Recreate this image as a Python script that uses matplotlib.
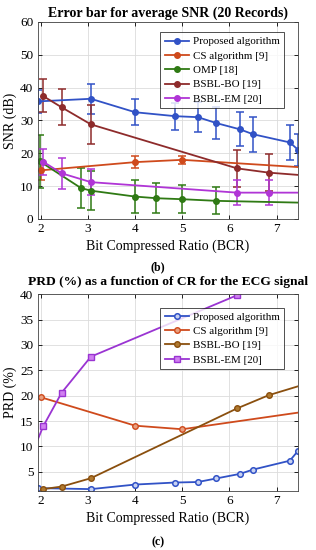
import numpy as np
import matplotlib
matplotlib.use('Agg')
import matplotlib.pyplot as plt
from matplotlib.lines import Line2D

plt.rcParams['font.family'] = ['Liberation Serif', 'DejaVu Serif']

# ---- SNR data (top panel) ----
bcr_prop = [1.93, 3.06, 4.0, 4.85, 5.33, 5.72, 6.22, 6.5, 7.28, 7.46]
snr_prop = [35.8, 36.6, 32.5, 31.3, 31.0, 29.2, 27.3, 25.8, 23.3, 21.0]
err_prop = [3.5, 4.5, 4.0, 4.1, 4.5, 5.0, 5.2, 5.3, 5.3, 5.0]

bcr_cs = [2.0, 4.0, 5.0, 8.0]
snr_cs = [14.8, 17.3, 18.0, 15.3]
err_cs = [3.0, 1.9, 1.2, 1.5]

bcr_omp = [1.98, 2.85, 3.06, 4.0, 4.45, 5.0, 5.72, 8.0]
snr_omp = [17.5, 9.4, 8.6, 6.8, 6.3, 6.0, 5.5, 4.8]
err_omp = [8.0, 6.0, 6.0, 5.0, 4.6, 4.3, 4.1, 4.0]

bcr_bo = [2.04, 2.44, 3.06, 6.16, 6.83, 8.0]
snr_bo = [37.5, 34.0, 28.8, 15.4, 14.1, 12.8]
err_bo = [5.0, 5.5, 6.0, 5.6, 5.7, 5.5]

bcr_em = [2.05, 2.44, 3.06, 6.16, 6.83, 8.0]
snr_em = [17.4, 13.9, 11.2, 8.0, 8.0, 8.0]
err_em = [4.0, 4.8, 4.0, 3.8, 3.8, 3.8]

# ---- PRD data (bottom panel) ----
prd_prop = [1.8, 1.6, 2.5, 2.9, 3.0, 3.7, 4.6, 5.45, 7.2, 9.2]
prd_cs = [19.7, 14.1, 13.4, 17.4]
bcr_bo2 = [2.04, 2.44, 3.06, 6.16, 6.83, 8.0]
prd_bo = [1.6, 2.1, 3.75, 17.5, 20.1, 23.4]
bcr_em2 = [1.85, 2.05, 2.44, 3.06, 6.16, 6.83]
prd_em = [9.5, 14.0, 20.6, 27.7, 39.8, 42.0]

c_prop = '#3152C6'
c_cs = '#CF4A1C'
c_omp = '#2F7A14'
c_bo = '#8E2B2B'
c_em = '#B035D6'
c_bo2 = '#8A4F0E'
c_em2 = '#9A34D2'

xlim = (bcr_prop[0], bcr_prop[-1])
fs = 9.5


def style(ax):
    ax.grid(True, color='#DCDCDC', linewidth=0.6)
    ax.set_axisbelow(True)
    ax.tick_params(direction='in', length=3, width=0.6, labelsize=fs,
                   top=True, right=True, pad=3)
    for s in ax.spines.values():
        s.set_linewidth(0.6)
        s.set_color('#444444')
    ax.set_xlim(xlim)
    ax.set_xticks([2, 3, 4, 5, 6, 7])


def legend(ax, handles, top):
    leg = ax.legend(handles=handles, loc='upper right', fontsize=7.9,
                    frameon=True, fancybox=False, edgecolor='black',
                    handlelength=2.2, borderpad=0.4, labelspacing=0.42,
                    handletextpad=0.4, bbox_to_anchor=(0.968, top))
    leg.get_frame().set_linewidth(0.6)
    return leg


fig = plt.figure(figsize=(3.16, 5.5), dpi=100)

# top panel
ax1 = fig.add_axes([0.119, 0.602, 0.825, 0.358])
series = [
    (bcr_prop, snr_prop, err_prop, c_prop, 'Proposed algorithm'),
    (bcr_cs, snr_cs, err_cs, c_cs, 'CS algorithm [9]'),
    (bcr_omp, snr_omp, err_omp, c_omp, 'OMP [18]'),
    (bcr_bo, snr_bo, err_bo, c_bo, 'BSBL-BO [19]'),
    (bcr_em, snr_em, err_em, c_em, 'BSBL-EM [20]'),
]
handles = []
for x, y, e, c, lab in series:
    ax1.errorbar(x, y, yerr=e, color=c, lw=1.3, marker='o', ms=4,
                 mfc=c, mec=c, capsize=3, capthick=1.1, elinewidth=1.1)
    handles.append(Line2D([], [], color=c, lw=1.3, marker='o', ms=4,
                          mfc=c, mec=c, label=lab))
style(ax1)
ax1.set_ylim(0, 60)
ax1.set_yticks(range(0, 61, 10))
ax1.set_ylabel('SNR (dB)', fontsize=fs + 0.5, labelpad=2)
ax1.set_xlabel('Bit Compressed Ratio (BCR)', fontsize=fs + 0.5, labelpad=3)
ax1.set_title('Error bar for average SNR (20 Records)', fontsize=10,
              fontweight='bold', pad=4)
legend(ax1, handles, 0.975)

# bottom panel
ax2 = fig.add_axes([0.119, 0.107, 0.825, 0.358])
ax2.plot(bcr_prop, prd_prop, color=c_prop, lw=1.3, marker='o', ms=4,
         mfc='#C8D2F2', mec=c_prop, mew=1.1, label='Proposed algorithm')
ax2.plot(bcr_cs, prd_cs, color=c_cs, lw=1.3, marker='o', ms=4,
         mfc='#E8A080', mec=c_cs, label='CS algorithm [9]')
ax2.plot(bcr_bo2, prd_bo, color=c_bo2, lw=1.3, marker='o', ms=4,
         mfc='#B07A30', mec=c_bo2, label='BSBL-BO [19]')
ax2.plot(bcr_em2, prd_em, color=c_em2, lw=1.3, marker='s', ms=3.8,
         mfc='#D080F0', mec=c_em2, label='BSBL-EM [20]')
style(ax2)
ax2.set_ylim(1.2, 40)
ax2.set_yticks(range(5, 41, 5))
ax2.set_ylabel('PRD (%)', fontsize=fs + 0.5, labelpad=2)
ax2.set_xlabel('Bit Compressed Ratio (BCR)', fontsize=fs + 0.5, labelpad=3)
ax2.set_title('PRD (%) as a function of CR for the ECG signal', fontsize=9.7,
              fontweight='bold', pad=7)
legend(ax2, ax2.get_lines(), 0.96)

fig.text(0.5, 0.5145, '(b)', ha='center', va='center', fontsize=8.5,
         fontweight='bold')
fig.text(0.5, 0.0145, '(c)', ha='center', va='center', fontsize=8.5,
         fontweight='bold')

fig.savefig('out.png', dpi=100)
